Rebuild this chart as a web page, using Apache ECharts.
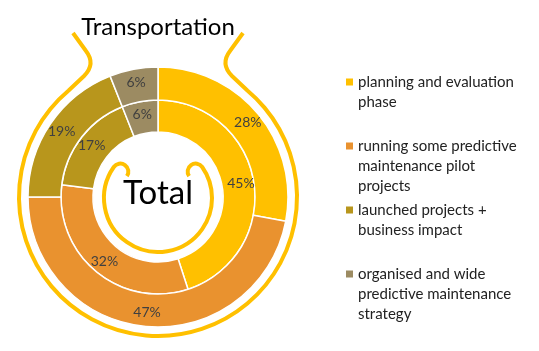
<!DOCTYPE html>
<html>
<head>
<meta charset="utf-8">
<script src="https://cdn.jsdelivr.net/npm/echarts@6/dist/echarts.min.js"></script>
<style>
html, body { margin: 0; padding: 0; background: #fff; }
#chart { width: 539px; height: 351px; }
</style>
</head>
<body>
<div id="chart"></div>
<script>
const categories = [
    'planning and evaluation phase',
    'running some predictive maintenance pilot projects',
    'launched projects + business impact',
    'organised and wide predictive maintenance strategy'
];
const totalValues = [45, 32, 17, 6];
const transportValues = [28, 47, 19, 6];
const colors = ['#FFC000', '#E9922F', '#B8961C', '#9C8B62'];

const FONT = 'Lato, "Open Sans", sans-serif';
const legendLines = [2, 3, 2, 3];
const LH = 20;
const cx = 158, cy = 197;

// decorative yellow "vessel" lines
const outerPath = 'M 73 33 L 86 51 Q 96 64 84 76 L 68.65 90.52 A 139 139 0 1 0 247.35 90.52 L 232 76 Q 220 64 230 51 L 243 33';
const innerPath = 'M 126.9 176.2 A 8 8 0 1 0 113.8 167 A 54 54 0 1 0 202.2 167 A 8 8 0 1 0 189.1 176.2';

function toData(values) {
    return categories.map((name, i) => ({ name: name, value: values[i] }));
}

// square at the first text line, invisible guides stretch the icon box to the whole text block
function legendIcon(lines) {
    const h = lines * LH, m = LH / 2;
    return `path://M0 0h7 M0 ${m - 3.5}h7v7h-7z M0 ${h}h7`;
}

const label = {
    show: true,
    position: 'inside',
    formatter: '{c}%',
    color: '#404040',
    fontSize: 14,
    fontFamily: FONT
};

const chart = echarts.init(document.getElementById('chart'));
chart.setOption({
    animation: false,
    color: colors,
    legend: categories.map((name, i) => ({
        data: [name],
        left: 346,
        top: 82 + i * 64 - LH / 2,
        padding: 0,
        icon: legendIcon(legendLines[i]),
        itemWidth: 7,
        itemHeight: legendLines[i] * LH,
        itemStyle: { borderWidth: 0 },
        selectedMode: false,
        textStyle: {
            fontSize: 15,
            fontFamily: FONT,
            color: '#222',
            lineHeight: LH,
            width: 165,
            overflow: 'break'
        }
    })),
    series: [
        {
            name: 'Total',
            type: 'pie',
            center: [cx, cy],
            radius: [65, 97],
            startAngle: 90,
            clockwise: true,
            data: toData(totalValues),
            label: label,
            labelLine: { show: false },
            itemStyle: { borderColor: '#fff', borderWidth: 1.5 },
            emphasis: { disabled: true }
        },
        {
            name: 'Transportation',
            type: 'pie',
            center: [cx, cy],
            radius: [97, 130],
            startAngle: 90,
            clockwise: true,
            data: toData(transportValues),
            label: label,
            labelLine: { show: false },
            itemStyle: { borderColor: '#fff', borderWidth: 1.5 },
            emphasis: { disabled: true }
        },
        {
            type: 'custom',
            coordinateSystem: 'none',
            silent: true,
            data: [0],
            renderItem: () => ({
                type: 'group',
                children: [outerPath, innerPath].map(p => ({
                    type: 'path',
                    shape: { pathData: p },
                    style: { fill: 'none', stroke: '#FFC000', lineWidth: 4 }
                }))
            })
        }
    ],
    graphic: [
        {
            type: 'text',
            x: cx,
            y: 27,
            style: { text: 'Transportation', fontSize: 24, fontFamily: FONT, fill: '#000', align: 'center', verticalAlign: 'middle' }
        },
        {
            type: 'text',
            x: cx,
            y: 193,
            style: { text: 'Total', fontSize: 33, fontFamily: FONT, fill: '#000', align: 'center', verticalAlign: 'middle' }
        }
    ]
});
window.addEventListener('resize', () => chart.resize());
</script>
</body>
</html>
